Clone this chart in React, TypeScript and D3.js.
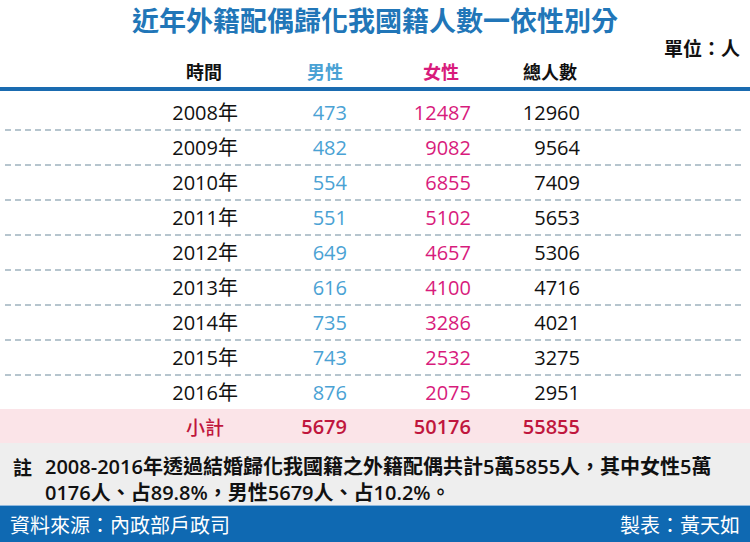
import React from "react";
import * as d3 from "d3";

const years = ["2008年", "2009年", "2010年", "2011年", "2012年", "2013年", "2014年", "2015年", "2016年"];
const male = [473, 482, 554, 551, 649, 616, 735, 743, 876];
const female = [12487, 9082, 6855, 5102, 4657, 4100, 3286, 2532, 2075];
const total = [12960, 9564, 7409, 5653, 5306, 4716, 4021, 3275, 2951];
const subtotalLabel = "小計";
const subtotal = [5679, 50176, 55855];
const headers = ["時間", "男性", "女性", "總人數"];
const title = "近年外籍配偶歸化我國籍人數一依性別分";
const unit = "單位：人";
const noteLines = [
  "2008-2016年透過結婚歸化我國籍之外籍配偶共計5萬5855人，其中女性5萬",
  "0176人、占89.8%，男性5679人、占10.2%。",
];
const source = "資料來源：內政部戶政司";
const author = "製表：黃天如";

const W = 750;
const H = 542;
const CJK = "'Noto Sans CJK TC', sans-serif";
const MIX = "'Open Sans', 'Noto Sans CJK TC', sans-serif";
const BLUE = "#1a6bb0";
const MALE = "#4aa2d4";
const FEMALE = "#d81b7c";
const SUB = "#c0163d";

export default function App() {
  const y = d3.scaleBand<number>().domain(d3.range(years.length)).range([95, 410]).padding(0);
  const colRight = [238, 347, 471, 580];
  const headerX = [204, 325, 441, 550];
  const headerColors = ["#111", MALE, FEMALE, "#111"];
  const valueCols = [male, female, total];
  const valueColors = [MALE, FEMALE, "#111"];

  return (
    <svg width={W} height={H} style={{ position: "absolute", left: 0, top: 0, background: "#fff" }}>
      <rect x={0} y={0} width={W} height={H} fill="#fff" />
      <text x={375} y={19} textAnchor="middle" dominantBaseline="central" fontFamily={CJK} fontSize={27} fontWeight={700} fill="#2176b8">
        {title}
      </text>
      <text x={740} y={47} textAnchor="end" dominantBaseline="central" fontFamily={CJK} fontSize={19} fontWeight={700} fill="#111">
        {unit}
      </text>
      {headers.map((h, i) => (
        <text key={h} x={headerX[i]} y={71} textAnchor="middle" dominantBaseline="central" fontFamily={CJK} fontSize={18} fontWeight={700} fill={headerColors[i]}>
          {h}
        </text>
      ))}
      <rect x={0} y={87} width={W} height={4} fill={BLUE} />
      {years.map((yr, i) => {
        const top = y(i)!;
        const cy = top + y.bandwidth() / 2;
        return (
          <g key={yr}>
            <text x={colRight[0]} y={cy} textAnchor="end" dominantBaseline="central" fontFamily={MIX} fontSize={20} fill="#111">
              {yr}
            </text>
            {valueCols.map((col, j) => (
              <text key={j} x={colRight[j + 1]} y={cy} textAnchor="end" dominantBaseline="central" fontFamily={MIX} fontSize={20} fill={valueColors[j]}>
                {col[i]}
              </text>
            ))}
            {i < years.length - 1 && (
              <line x1={5} x2={745} y1={top + y.bandwidth()} y2={top + y.bandwidth()} stroke="#9fb2bf" strokeWidth={1.5} strokeDasharray="6,4" />
            )}
          </g>
        );
      })}
      <rect x={0} y={409} width={W} height={34} fill="#fbe4e8" />
      <text x={205} y={426} textAnchor="middle" dominantBaseline="central" fontFamily={CJK} fontSize={19} fontWeight={500} fill={SUB}>
        {subtotalLabel}
      </text>
      {subtotal.map((v, j) => (
        <text key={j} x={colRight[j + 1]} y={426} textAnchor="end" dominantBaseline="central" fontFamily={MIX} fontSize={20} fontWeight={600} fill={SUB}>
          {v}
        </text>
      ))}
      <rect x={0} y={443} width={W} height={63} fill="#eeeeee" />
      <text x={13} y={466} dominantBaseline="central" fontFamily={CJK} fontSize={19} fontWeight={700} fill="#111">
        註
      </text>
      {noteLines.map((l, i) => (
        <text key={i} x={45} y={466 + i * 26} dominantBaseline="central" fontFamily={MIX} fontSize={20} fontWeight={600} fill="#111">
          {l}
        </text>
      ))}
      <rect x={0} y={505} width={W} height={37} fill="#0f69b2" />
      <line x1={0} x2={W} y1={505.5} y2={505.5} stroke="#8fb8de" strokeWidth={1} />
      <text x={10} y={524} dominantBaseline="central" fontFamily={CJK} fontSize={20} fill="#fff">
        {source}
      </text>
      <text x={740} y={524} textAnchor="end" dominantBaseline="central" fontFamily={CJK} fontSize={20} fill="#fff">
        {author}
      </text>
    </svg>
  );
}
